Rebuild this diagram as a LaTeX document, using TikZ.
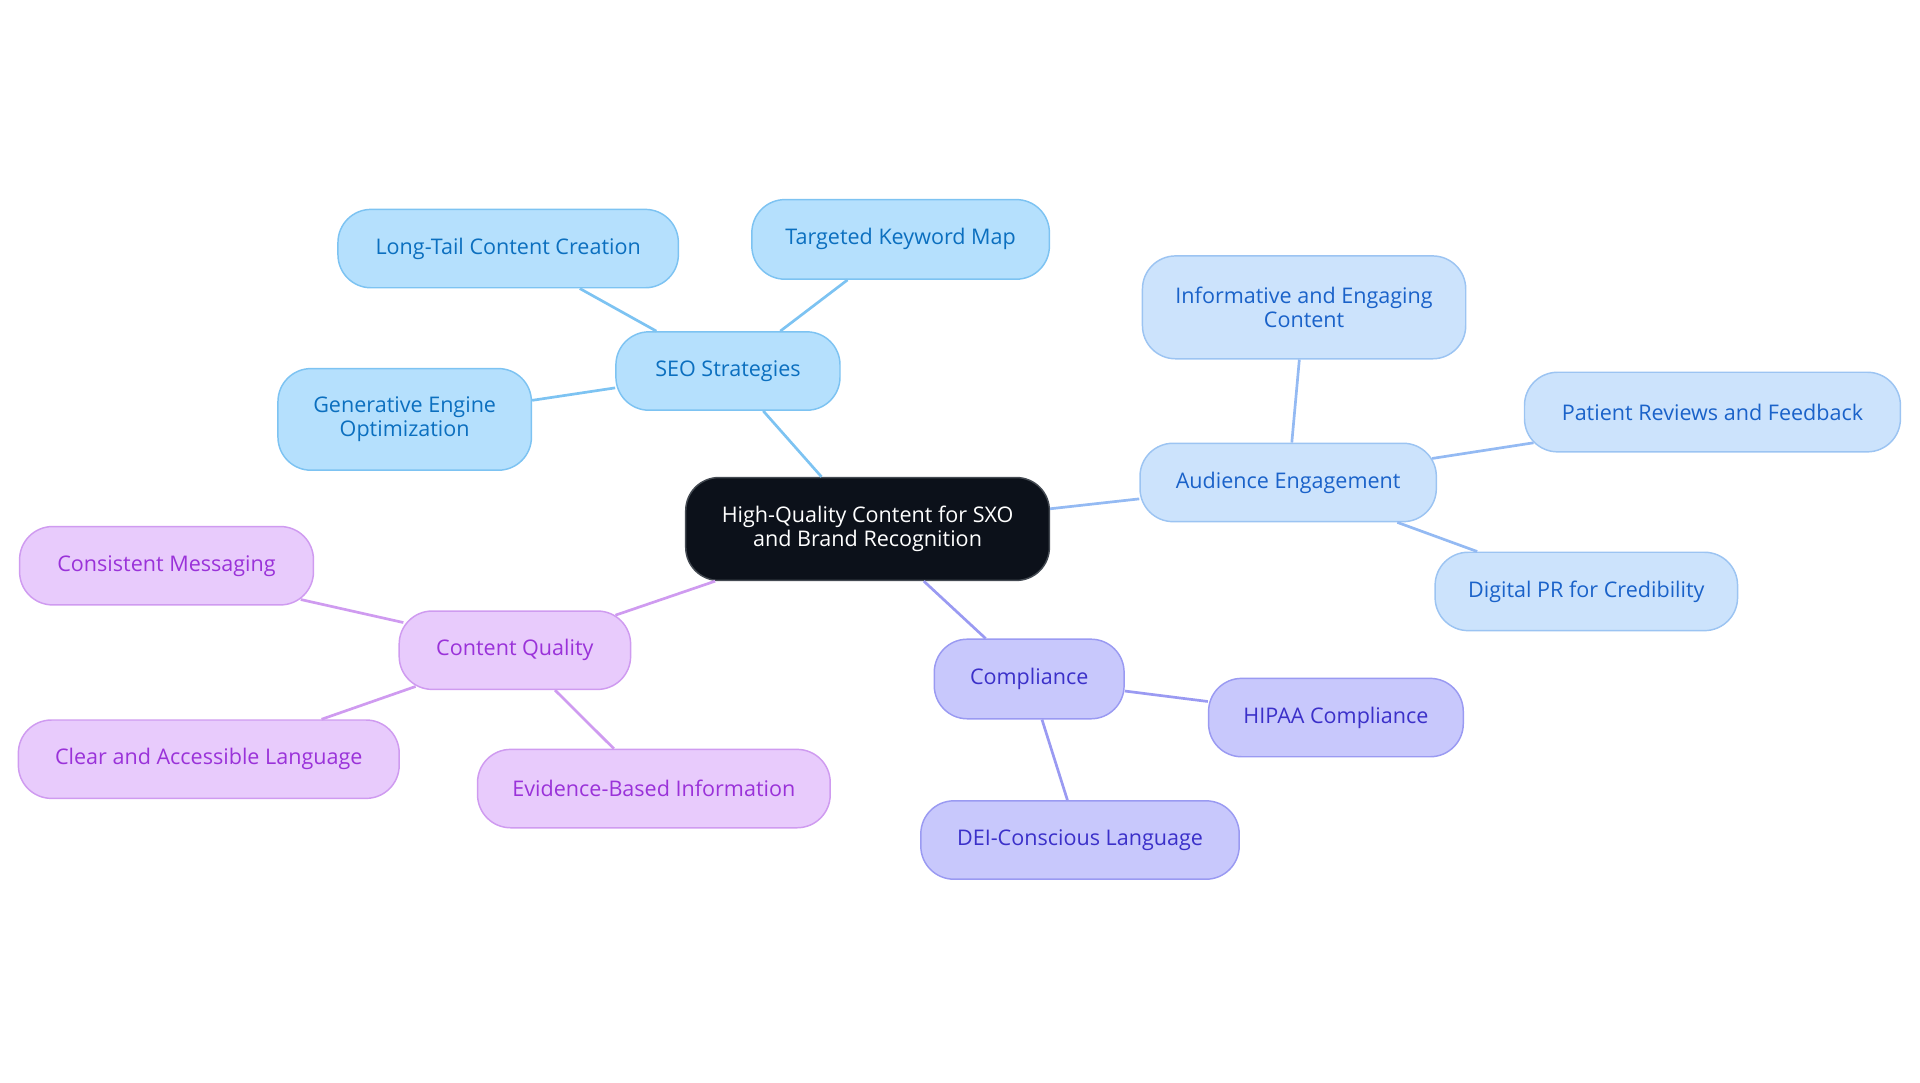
\documentclass[tikz,border=0pt]{standalone}
\usepackage{fontspec}
\setmainfont{Open Sans}
\definecolor{seoF}{HTML}{B5E0FD}\definecolor{seoD}{HTML}{7DC3F2}\definecolor{seoT}{HTML}{0B6FBF}
\definecolor{audF}{HTML}{CCE3FC}\definecolor{audD}{HTML}{9CC4F2}\definecolor{audT}{HTML}{1A62C9}
\definecolor{comF}{HTML}{C8C8FC}\definecolor{comD}{HTML}{9A9AF2}\definecolor{comT}{HTML}{3B30C9}
\definecolor{cqF}{HTML}{E8CBFC}\definecolor{cqD}{HTML}{CF9BF0}\definecolor{cqT}{HTML}{9A32D9}
\definecolor{ctrF}{HTML}{0C111A}\definecolor{ctrD}{HTML}{444A52}
\tikzset{
  x=1pt,y=-1pt,
  box/.style={draw, line width=1.2pt, rounded corners=27pt, align=center,
    font=\fontsize{17.6}{19.5}\selectfont, inner sep=0pt},
  seo/.style={box, fill=seoF, draw=seoD, text=seoT},
  aud/.style={box, fill=audF, draw=audD, text=audT},
  com/.style={box, fill=comF, draw=comD, text=comT},
  cq/.style={box, fill=cqF, draw=cqD, text=cqT},
  ctr/.style={box, fill=ctrF, draw=ctrD, text=white},
  seoE/.style={draw=seoD, line width=2.2pt},
  audE/.style={draw=audD!95!blue, line width=2.2pt},
  comE/.style={draw=comD, line width=2.2pt},
  cqE/.style={draw=cqD, line width=2.2pt},
}
\begin{document}
\begin{tikzpicture}
\useasboundingbox (0,0) rectangle (1568,884.4);
% center
\node[ctr, minimum width=297pt, minimum height=84pt] (c) at (708.5,432) {High-Quality Content for SXO\\and Brand Recognition};
% SEO
\node[seo, minimum width=183pt, minimum height=64pt] (seo) at (594.5,303) {SEO Strategies};
\node[seo, minimum width=278pt, minimum height=64pt] (lt) at (415,203) {Long-Tail Content Creation};
\node[seo, minimum width=243pt, minimum height=65pt] (tk) at (735.5,195.5) {Targeted Keyword Map};
\node[seo, minimum width=207pt, minimum height=83pt] (geo) at (330.5,342.5) {Generative Engine\\Optimization};
% Audience
\node[aud, minimum width=242pt, minimum height=64pt] (ae) at (1052,394) {Audience Engagement};
\node[aud, minimum width=264pt, minimum height=84pt] (ie) at (1065,251) {Informative and Engaging\\Content};
\node[aud, minimum width=307pt, minimum height=65pt] (pr) at (1398.5,336.5) {Patient Reviews and Feedback};
\node[aud, minimum width=247pt, minimum height=64pt] (dp) at (1295.5,483) {Digital PR for Credibility};
% Compliance
\node[com, minimum width=155pt, minimum height=65pt] (co) at (840.5,554.5) {Compliance};
\node[com, minimum width=208pt, minimum height=64pt] (hi) at (1091,586) {HIPAA Compliance};
\node[com, minimum width=260pt, minimum height=64pt] (dei) at (882,686) {DEI-Conscious Language};
% Content Quality
\node[cq, minimum width=189pt, minimum height=64pt] (cq) at (420.5,531) {Content Quality};
\node[cq, minimum width=240pt, minimum height=64pt] (cm) at (136,462) {Consistent Messaging};
\node[cq, minimum width=311pt, minimum height=64pt] (cl) at (170.5,620) {Clear and Accessible Language};
\node[cq, minimum width=288pt, minimum height=64pt] (eb) at (534,644) {Evidence-Based Information};
% edges
\path[seoE] (c) -- (seo);
\path[seoE] (seo) -- (lt);
\path[seoE] (seo) -- (tk);
\path[seoE] (seo) -- (geo);
\path[audE] (c) -- (ae);
\path[audE] (ae) -- (ie);
\path[audE] ([xshift=-4pt,yshift=-13pt]ae.north east) -- ([xshift=8pt,yshift=8pt]pr.south west);
\path[audE] (ae) -- (dp);
\path[comE] (c) -- (co);
\path[comE] (co) -- (hi);
\path[comE] (co) -- (dei);
\path[cqE] (c) -- ([xshift=-13pt,yshift=-4pt]cq.north east);
\path[cqE] ([xshift=4pt,yshift=-10pt]cq.north west) -- ([xshift=-11pt,yshift=5pt]cm.south east);
\path[cqE] ([xshift=14pt,yshift=3pt]cq.south west) -- ([xshift=-64pt]cl.north east);
\path[cqE] (cq) -- (eb);
\end{tikzpicture}
\end{document}
